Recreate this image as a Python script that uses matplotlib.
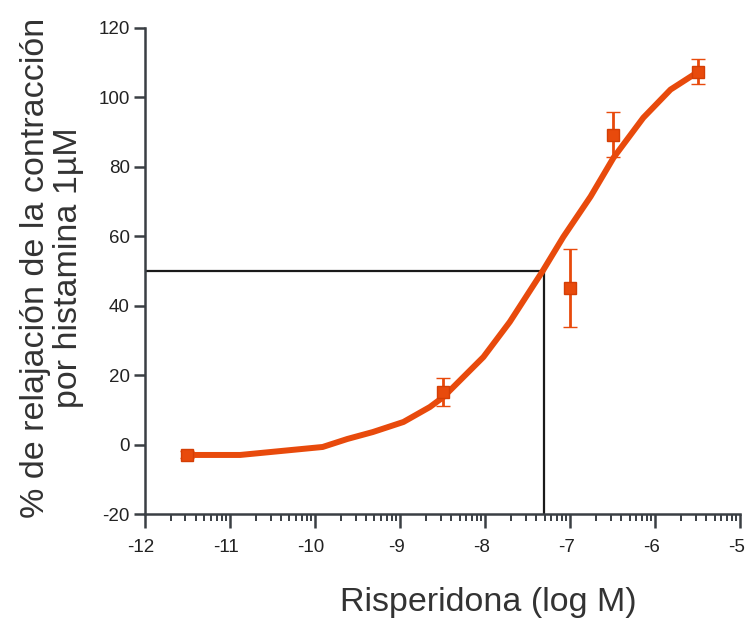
import numpy as np
import matplotlib
matplotlib.use("Agg")
import matplotlib.pyplot as plt
from matplotlib.ticker import FixedLocator
import matplotlib.transforms as mtransforms

plt.rcParams['font.family'] = ['Liberation Sans', 'DejaVu Sans']

# data points (log M, % relaxation, SEM)
x_pts = [-11.5, -8.5, -7.0, -6.5, -5.5]
y_pts = [-3.0, 15.2, 45.0, 89.2, 107.3]
err_pts = [1.0, 4.0, 11.3, 6.5, 3.6]

# fitted curve
curve_x = [-11.53, -10.88, -9.91, -9.62, -9.32, -8.96, -8.65, -8.49, -8.29,
           -8.02, -7.71, -7.33, -7.08, -6.76, -6.49, -6.14, -5.82, -5.49]
curve_y = [-3.0, -3.0, -0.7, 1.6, 3.6, 6.5, 10.8, 13.7, 18.6,
           25.2, 35.3, 49.7, 59.8, 71.4, 82.6, 94.1, 102.2, 107.4]

ec50_x = -7.31
ec50_y = 50.0

x_ticks = [-12, -11, -10, -9, -8, -7, -6, -5]
y_ticks = [-20, 0, 20, 40, 60, 80, 100, 120]

orange = '#E84A0C'
axcol = '#3a3f44'

fig = plt.figure(figsize=(7.47, 6.21), dpi=100)
ax = fig.add_axes([0.194, 0.1723, 0.797, 0.783])

ax.plot([-12, ec50_x], [ec50_y, ec50_y], color='#1a1a1a', lw=1.6, zorder=2)
ax.plot([ec50_x, ec50_x], [-20, ec50_y], color='#1a1a1a', lw=1.6, zorder=2)

ax.plot(curve_x, curve_y, color=orange, lw=4.3, solid_joinstyle='round',
        solid_capstyle='round', zorder=3)
ax.errorbar(x_pts, y_pts, yerr=err_pts, fmt='s', color=orange, ms=9,
            mec='#D43E05', mew=1.0, ecolor=orange, elinewidth=2.0,
            capsize=5, capthick=2.0, zorder=4)

ax.set_xlim(-12, -5)
ax.set_ylim(-20, 120)
ax.set_xticks(x_ticks)
ax.set_xticklabels([str(v) for v in x_ticks])
ax.set_yticks(y_ticks)
ax.set_yticklabels([str(v) for v in y_ticks])
minor = [n + np.log10(k) for n in range(-12, -5) for k in range(2, 10)]
ax.xaxis.set_minor_locator(FixedLocator(minor))

for s in ['top', 'right']:
    ax.spines[s].set_visible(False)
for s in ['left', 'bottom']:
    ax.spines[s].set_color(axcol)
    ax.spines[s].set_linewidth(1.8)

ax.tick_params(axis='x', which='major', direction='out', length=10, width=1.8,
               color=axcol, labelsize=13.5, labelcolor='#222222', pad=8)
ax.tick_params(axis='x', which='minor', direction='out', length=5, width=1.4,
               color=axcol)
ax.tick_params(axis='y', which='major', direction='out', length=8, width=1.8,
               color=axcol, labelsize=13.5, labelcolor='#222222', pad=3)

shift = mtransforms.ScaledTranslation(-4 / 100, 0, fig.dpi_scale_trans)
for lbl in ax.get_xticklabels():
    lbl.set_transform(lbl.get_transform() + shift)

ax.set_xlabel('Risperidona (log M)', fontsize=24.5, color='#333333')
ax.xaxis.set_label_coords((488 - 145) / (0.797 * 747), (621 - 602 - 107) / (0.783 * 621) ,
                          transform=None)
ax.xaxis.label.set_position((0, 0))
ax.xaxis.label.set_transform(fig.transFigure)
ax.xaxis.label.set_position((488 / 747, 1 - 602 / 621))
ax.xaxis.label.set_va('center')
ax.xaxis.label.set_ha('center')

ylab = fig.text(52 / 747, 1 - 268 / 621,
                '% de relajación de la contracción\npor histamina 1µM',
                fontsize=24.5, color='#333333', rotation=90, ha='center',
                va='center', multialignment='center', linespacing=1.05)
fig.savefig('out.png', dpi=100)
